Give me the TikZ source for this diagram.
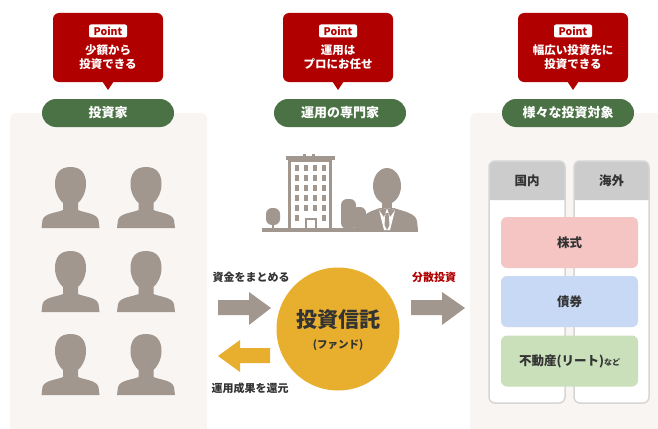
\documentclass[tikz,border=0pt]{standalone}
\usepackage{fontspec}
\setmainfont{Noto Sans CJK JP}
\usetikzlibrary{positioning}

\definecolor{pointred}{HTML}{B00000}
\definecolor{rolegreen}{HTML}{4A7244}
\definecolor{panelbg}{HTML}{F8F5F3}
\definecolor{icongray}{HTML}{A2978F}
\definecolor{fundgold}{HTML}{E8AE2E}
\definecolor{textdark}{HTML}{333333}
\definecolor{headgray}{HTML}{CCCCCC}
\definecolor{colline}{HTML}{D6D6D6}
\definecolor{stockpink}{HTML}{F5C5C4}
\definecolor{bondblue}{HTML}{C7D9F4}
\definecolor{reitgreen}{HTML}{C9E0BA}

% silhouette of one investor, origin at the top of the head
\tikzset{
  investor/.pic={
    \fill[icongray] (0,0) .. controls (11,0) and (15.5,7) .. (15.5,17)
      .. controls (15.5,26) and (11,33) .. (7.5,36) -- (7.5,43)
      .. controls (14,46) and (26,46) .. (28,53) -- (29,61) -- (-29,61) -- (-28,53)
      .. controls (-26,46) and (-14,46) .. (-7.5,43) -- (-7.5,36)
      .. controls (-11,33) and (-15.5,26) .. (-15.5,17)
      .. controls (-15.5,7) and (-11,0) .. (0,0) -- cycle;
  }
}

\begin{document}
\begin{tikzpicture}[x=1pt, y=-1pt,
        callout/.style={
        fill=pointred, rounded corners=6pt,
        minimum width=110pt, minimum height=69pt, inner sep=0pt},
        pointtag/.style={
        fill=white, rounded corners=2pt, text=pointred,
        font=\bfseries\fontsize{10.5}{10.5}\selectfont,
        inner sep=0pt, minimum width=38pt, minimum height=13pt},
        calltext/.style={
        text=white, align=center,
        font=\bfseries\fontsize{11.5}{14}\selectfont},
        role/.style={
        fill=rolegreen, rounded corners=14pt,
        minimum width=132pt, minimum height=28pt, text=white,
        font=\bfseries\fontsize{13}{13}\selectfont},
        flowlabel/.style={
        text=textdark, font=\bfseries\fontsize{11}{11}\selectfont},
        colhead/.style={
        text=textdark, font=\bfseries\fontsize{12.5}{12.5}\selectfont},
        asset/.style={
        rounded corners=6pt, minimum width=137pt, minimum height=51pt,
        text=textdark, font=\bfseries\fontsize{12.5}{12.5}\selectfont},
        ]

        \useasboundingbox (0,0) rectangle (658,428);

        % background panels
        \fill[panelbg, rounded corners=6pt] (10,113) rectangle (207,440);
        \fill[panelbg, rounded corners=6pt] (470,113) rectangle (670,440);

        % callouts and role pills
        \foreach \cx/\px/\i/\textA/\textB/\who in {
            108/108/1/少額から/投資できる/投資家,
            338/340/2/運用は/プロにお任せ/運用の専門家,
            573/568/3/幅広い投資先に/投資できる/様々な投資対象}{
          \node (box\i) [callout] at (\cx,47.5) {};
          \fill[pointred] (\cx-6,81) -- (\cx,90) -- (\cx+6,81) -- cycle;
          \node (tag\i) [pointtag] at (\cx,31) {Point};
          \node (note\i) [calltext] at (\cx,57) {\textA\\\textB};
          \node (role\i) [role] at (\px,113) {\who};
        }

        % investors
        \foreach \hx in {70.5,146}
          \foreach \hy in {167,251,334}
            \pic at (\hx,\hy) {investor};

        % office building with trees
        \fill[icongray] (262,228) rectangle (418,232);
        \fill[icongray, rounded corners=6pt] (266,208) rectangle (280,225);
        \fill[icongray] (272,222) rectangle (274,230);
        \fill[icongray, rounded corners=6pt] (341,199) rectangle (356,229);
        \fill[icongray, rounded corners=6pt] (352,207) rectangle (366,229);
        \fill[icongray] (286,156) rectangle (335,160);
        \fill[icongray] (303,153.5) rectangle (306,156);
        \fill[icongray] (312,153.5) rectangle (315,156);
        \draw[icongray, line width=3pt] (289.5,160) rectangle (330.5,229);
        \foreach \wx in {295,304,313,322}
          \foreach \wy in {165,175,185,195,205}
            \fill[icongray] (\wx,\wy) rectangle (\wx+4,\wy+6);
        \fill[icongray] (295,215) rectangle (299,221);
        \fill[icongray] (322,215) rectangle (326,221);
        \draw[icongray, line width=2pt] (306,229) -- (306,219) -- (316,219) -- (316,229);

        % fund manager
        \fill[icongray] (361,230) -- (362,221) .. controls (363,213) and (372,211) .. (380,208)
          -- (394,208) .. controls (402,211) and (416,213) .. (417,221) -- (418,230) -- cycle;
        \fill[icongray] (382,198) rectangle (392,210);
        \fill[icongray] (387,186) ellipse (14pt and 18pt);
        \fill[white] (379,210) -- (387,208) -- (395,210) -- (390,230) -- (384,230) -- cycle;
        \fill[icongray] (379,210) -- (387,208) -- (384,217) -- cycle;
        \fill[icongray] (395,210) -- (387,208) -- (390,217) -- cycle;
        \fill[icongray] (385.5,213) -- (388.5,213) -- (389.5,225) -- (387,230) -- (384.5,225) -- cycle;

        % the fund
        \node (fund) [circle, fill=fundgold, minimum size=123pt, inner sep=0pt] at (338,329) {};
        \node (fundname) [text=textdark, font=\bfseries\fontsize{21}{21}\selectfont] at (338,320) {投資信託};
        \node (fundsub) [text=textdark, font=\bfseries\fontsize{10.5}{10.5}\selectfont] at (338,345) {(ファンド)};

        % money flow
        \node (pool) [flowlabel] at (251,277) {資金をまとめる};
        \node (payback) [flowlabel] at (250,388) {運用成果を還元};
        \node (spread) [flowlabel, text=pointred] at (434,277) {分散投資};
        \fill[icongray] (218,300) -- (249,300) -- (249,292) -- (271,308) -- (249,325)
          -- (249,315) -- (218,315) -- cycle;
        \fill[fundgold] (270,348) -- (240,348) -- (240,340) -- (218,356) -- (240,372)
          -- (240,363) -- (270,363) -- cycle;
        \fill[icongray] (411,300) -- (442,300) -- (442,292) -- (465,308) -- (442,325)
          -- (442,315) -- (411,315) -- cycle;

        % domestic / overseas columns
        \foreach \lx/\rx/\j/\area in {489/565/1/国内, 574/649/2/海外}{
          \fill[white, rounded corners=6pt] (\lx,161) rectangle (\rx,403);
          \fill[headgray] (\lx,200) [rounded corners=6pt] -- (\lx,161) -- (\rx,161)
            [sharp corners] -- (\rx,200) -- cycle;
          \draw[colline, line width=1.5pt, rounded corners=6pt] (\lx,161) rectangle (\rx,403);
          \node (area\j) [colhead] at ({(\lx+\rx)/2},181) {\area};
        }

        \node (stock) [asset, fill=stockpink] at (569.5,242.5) {株式};
        \node (bond) [asset, fill=bondblue] at (569.5,301.5) {債券};
        \node (reit) [asset, fill=reitgreen] at (569.5,361) {不動産(リート){\fontsize{8}{8}\selectfont など}};
    \end{tikzpicture}
\end{document}
